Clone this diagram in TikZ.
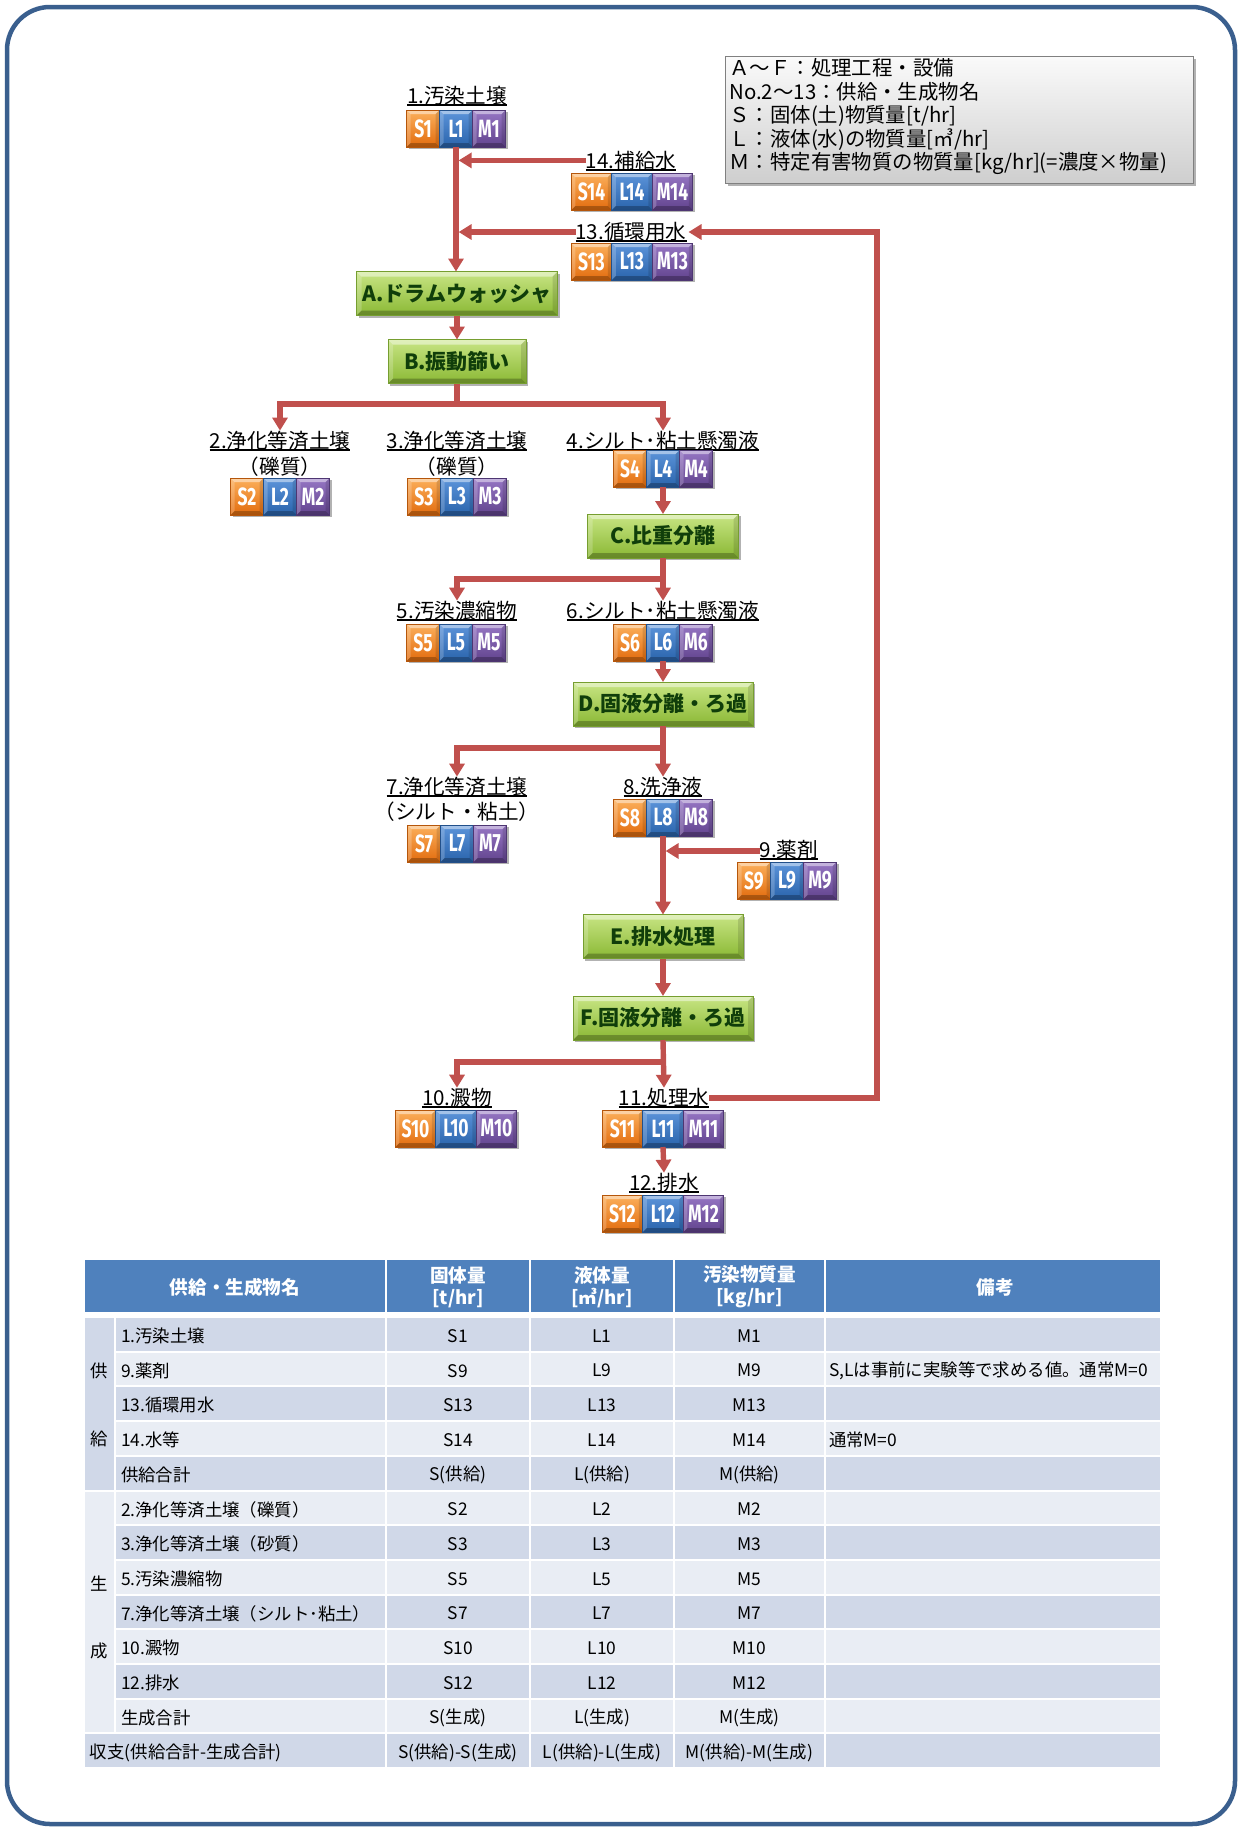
\documentclass[tikz,border=0pt]{standalone}
\usepackage{fontspec}
\setmainfont{Noto Sans CJK JP}
\newfontfamily\boxfont[FakeStretch=0.7]{Fira Sans}
\usetikzlibrary{arrows.meta,shadows}

\definecolor{frameblue}{RGB}{58,95,142}
\definecolor{flowred}{RGB}{192,80,77}
\definecolor{sTop}{RGB}{252,176,92}
\definecolor{sBot}{RGB}{226,108,14}
\definecolor{lTop}{RGB}{92,148,218}
\definecolor{lBot}{RGB}{42,100,172}
\definecolor{mTop}{RGB}{150,118,196}
\definecolor{mBot}{RGB}{98,68,142}
\definecolor{pTop}{RGB}{200,229,132}
\definecolor{pBot}{RGB}{138,184,52}
\definecolor{pText}{RGB}{16,62,10}
\definecolor{pEdge}{RGB}{118,158,48}
\definecolor{hdr}{RGB}{79,129,189}
\definecolor{rowA}{RGB}{208,216,232}
\definecolor{rowB}{RGB}{233,237,244}
\definecolor{legTop}{RGB}{250,250,250}
\definecolor{legBot}{RGB}{206,206,206}

% underlined label text
\newcommand\uln[1]{\setbox0\hbox{#1}\rlap{\rule[-1.5pt]{\wd0}{0.9pt}}\box0}

\tikzset{
  bevel/.style={path picture={
    \path (path picture bounding box.north west) coordinate (pnw)
          (path picture bounding box.north east) coordinate (pne)
          (path picture bounding box.south west) coordinate (psw)
          (path picture bounding box.south east) coordinate (pse);
    \fill[white,opacity=0.45] (pnw) -- (pne) -- ([xshift=-#1,yshift=-#1]pne) -- ([xshift=#1,yshift=-#1]pnw) -- cycle;
    \fill[white,opacity=0.2] (pnw) -- (psw) -- ([xshift=#1,yshift=#1]psw) -- ([xshift=#1,yshift=-#1]pnw) -- cycle;
    \fill[black,opacity=0.12] (pne) -- (pse) -- ([xshift=-#1,yshift=#1]pse) -- ([xshift=-#1,yshift=-#1]pne) -- cycle;
    \fill[black,opacity=0.25] (psw) -- (pse) -- ([xshift=-#1,yshift=#1]pse) -- ([xshift=#1,yshift=#1]psw) -- cycle;
  }},
  softshadow/.style={drop shadow={shadow xshift=1.2pt,shadow yshift=-1.2pt,opacity=0.3,fill=black}},
  cell/.style={inner sep=0pt, outer sep=0pt, minimum height=18.5pt, text=white,
    font=\boxfont\bfseries\fontsize{12.5}{13}\selectfont, bevel=2pt, softshadow, line width=0.3pt},
  sbox/.style={cell, top color=sTop, bottom color=sBot, draw=sBot!80!black},
  lbox/.style={cell, top color=lTop, bottom color=lBot, draw=lBot!80!black},
  mbox/.style={cell, top color=mTop, bottom color=mBot, draw=mBot!80!black},
  proc/.style={inner sep=0pt, outer sep=0pt, minimum height=22pt, top color=pTop, bottom color=pBot,
    draw=pEdge, line width=0.4pt, text=pText, font=\bfseries\fontsize{10.5}{12}\selectfont,
    bevel=2.5pt, softshadow},
  lab/.style={inner sep=0pt, outer sep=0pt, anchor=base, font=\fontsize{10.3}{12}\selectfont},
  wire/.style={draw=flowred, line width=2.7pt},
  flow/.style={wire, ->},
  tcell/.style={inner sep=0pt, outer sep=0pt, font=\fontsize{8.7}{10}\selectfont},
  thead/.style={inner sep=0pt, outer sep=0pt, text=white, align=center,
    font=\bfseries\fontsize{9.3}{11}\selectfont},
}

% three quantity cells S/L/M centred at x, top edge at y
\newcommand\trio[4]{% #1 number, #2 centre x, #3 top y, #4 cell width
  \node[sbox, minimum width=#4*0.5pt, anchor=north] (s#1) at ({#2-#4},#3) {S#1};
  \node[lbox, minimum width=#4*0.5pt, anchor=north] (l#1) at (#2,#3) {L#1};
  \node[mbox, minimum width=#4*0.5pt, anchor=north] (m#1) at ({#2+#4},#3) {M#1};
}

% one body row of the balance table
\newcommand\trow[7]{% #1 index, #2 fill, #3 left x of name cell, #4 name, #5 S, #6 L, #7 M
  \pgfmathsetmacro\rowtop{1317+34.7*#1}
  \pgfmathsetmacro\rowbot{\rowtop+34.7}
  \pgfmathsetmacro\rowmid{\rowtop+19}
  \path[fill=#2, draw=white, line width=1pt] (#3,\rowtop) rectangle (386,\rowbot)
       (386,\rowtop) rectangle (530,\rowbot) (530,\rowtop) rectangle (674,\rowbot)
       (674,\rowtop) rectangle (825,\rowbot) (825,\rowtop) rectangle (1161,\rowbot);
  \node[tcell, anchor=west] (t#1n) at ({#3+6},\rowmid) {#4};
  \node[tcell] (t#1s) at (458,\rowmid) {#5};
  \node[tcell] (t#1l) at (602,\rowmid) {#6};
  \node[tcell] (t#1m) at (749.5,\rowmid) {#7};
}

\begin{document}
\begin{tikzpicture}[x=0.5pt, y=-0.5pt, >={Triangle[length=6.5pt,width=7.5pt]}]
\useasboundingbox (0,0) rectangle (1239,1827);

% outer frame
\draw[frameblue, line width=2.25pt, rounded corners=21.5pt] (7,7) rectangle (1235,1824);

% legend
\node[draw=black!50, line width=0.6pt, top color=legTop, bottom color=legBot, softshadow,
      minimum width=234pt, minimum height=63.5pt, inner sep=0pt, anchor=north west] (legend) at (725,56) {};
\node[inner sep=0pt, anchor=north west, align=left, font=\fontsize{10.2}{11.75}\selectfont] (legendtext) at (729,58)
  {Ａ～Ｆ：処理工程・設備\\No.2～13：供給・生成物名\\Ｓ：固体(土)物質量{[t/hr]}\\Ｌ：液体(水)の物質量{[㎥/hr]}\\Ｍ：特定有害物質の物質量{[kg/hr]}(=濃度×物量)};

% material labels
\node[lab] (lab1) at (457,103) {\uln{1.汚染土壌}};
\node[lab] (lab14) at (631,168) {\uln{14.補給水}};
\node[lab] (lab13) at (631,239) {\uln{13.循環用水}};
\node[lab] (lab2) at (280,448) {\uln{2.浄化等済土壌}};
\node[lab] (sub2) at (280,474) {（礫質）};
\node[lab] (lab3) at (457,448) {\uln{3.浄化等済土壌}};
\node[lab] (sub3) at (457,474) {（礫質）};
\node[lab] (lab4) at (663,448) {\uln{4.シルト･粘土懸濁液}};
\node[lab] (lab5) at (457,618) {\uln{5.汚染濃縮物}};
\node[lab] (lab6) at (663,618) {\uln{6.シルト･粘土懸濁液}};
\node[lab] (lab7) at (457,794) {\uln{7.浄化等済土壌}};
\node[lab] (sub7) at (457,819) {（シルト・粘土）};
\node[lab] (lab8) at (663,794) {\uln{8.洗浄液}};
\node[lab] (lab9) at (789,857) {\uln{9.薬剤}};
\node[lab] (lab10) at (457,1105) {\uln{10.澱物}};
\node[lab] (lab11) at (664,1105) {\uln{11.処理水}};
\node[lab] (lab12) at (664,1190) {\uln{12.排水}};

% quantity cells
\trio{1}{456}{110}{33}
\trio{14}{632}{173}{40.5}
\trio{13}{632}{243}{40.5}
\trio{2}{280}{478}{33}
\trio{3}{457}{478}{33}
\trio{4}{663}{450}{33}
\trio{5}{456}{624}{33}
\trio{6}{663}{624}{33}
\trio{7}{457}{825}{33}
\trio{8}{663}{799}{33}
\trio{9}{787}{862}{33}
\trio{10}{456}{1110}{40.5}
\trio{11}{663}{1110}{40.5}
\trio{12}{663}{1195}{40.5}

% process steps
\node[proc, minimum width=100.5pt] (A) at (457,293.5) {A.ドラムウォッシャ};
\node[proc, minimum width=69pt] (B) at (457,361.5) {B.振動篩い};
\node[proc, minimum width=75.5pt] (C) at (663,536) {C.比重分離};
\node[proc, minimum width=90pt] (D) at (663,704) {D.固液分離・ろ過};
\node[proc, minimum width=80pt] (E) at (663,936.5) {E.排水処理};
\node[proc, minimum width=90pt] (F) at (663,1018) {F.固液分離・ろ過};

% junction points
\coordinate (jB) at (457,404);
\coordinate (jC) at (663,579);
\coordinate (jD) at (663,748);
\coordinate (jF) at (663,1062);
\coordinate (loopx) at (877,0);
\coordinate (f14) at ([yshift=3.8pt]lab14.base west);
\coordinate (f13) at ([yshift=3.5pt]lab13.base west);
\coordinate (r13) at ([yshift=3.5pt]lab13.base east);
\coordinate (r11) at ([yshift=3.5pt]lab11.base east);
\coordinate (f9) at ([yshift=3pt]lab9.base west);

% flow lines
\draw[flow] (l1.south) -- (l1.south |- A.north);
\draw[flow, shorten >=1.3pt] (f14) -- (f14 -| l1.south);
\draw[flow, shorten >=1.3pt] (f13) -- (f13 -| l1.south);
\draw[flow] (r11) -- (r11 -| loopx) -- (r13 -| loopx) -- ([xshift=1pt]r13);
\draw[flow] (A.south) -- (B.north);
\draw[wire] (B.south) -- (jB);
\draw[wire, <->] (lab2.north) |- (jB) -| (lab4.north);
\draw[flow] (l4.south) -- (C.north);
\draw[flow] (C.south) -- (lab6.north);
\draw[flow] (jC) -| (lab5.north);
\draw[flow] (l6.south) -- (D.north);
\draw[flow] (D.south) -- (lab8.north);
\draw[flow] (jD) -| (lab7.north);
\draw[flow] (l8.south) -- (E.north);
\draw[flow, shorten >=1.3pt] (f9) -- (f9 -| l8.south);
\draw[flow] (E.south) -- (F.north);
\draw[flow] (F.south) -- (lab11.north);
\draw[flow] (jF) -| (lab10.north);
\draw[flow] (l11.south) -- (lab12.north);

% balance table: header
\path[fill=hdr, draw=white, line width=1pt] (84,1259) rectangle (386,1313)
     (386,1259) rectangle (530,1313) (530,1259) rectangle (674,1313)
     (674,1259) rectangle (825,1313) (825,1259) rectangle (1161,1313);
\node[thead] (h0) at (235,1287) {供給・生成物名};
\node[thead] (h1) at (458,1287) {固体量\\{}[t/hr]};
\node[thead] (h2) at (602,1287) {液体量\\{}[㎥/hr]};
\node[thead] (h3) at (749.5,1287) {汚染物質量\\{}[kg/hr]};
\node[thead] (h4) at (995,1287) {備考};

% balance table: group cells
\path[fill=rowA, draw=white, line width=1pt] (84,1317) rectangle (115,1490.5);
\path[fill=rowB, draw=white, line width=1pt] (84,1490.5) rectangle (115,1733.4);
\node[tcell] (g1) at (99.5,1371) {供};
\node[tcell] (g2) at (99.5,1439) {給};
\node[tcell] (g3) at (99.5,1584) {生};
\node[tcell] (g4) at (99.5,1651) {成};

% balance table: rows
\trow{0}{rowA}{115}{1.汚染土壌}{S1}{L1}{M1}
\trow{1}{rowB}{115}{9.薬剤}{S9}{L9}{M9}
\trow{2}{rowA}{115}{13.循環用水}{S13}{L13}{M13}
\trow{3}{rowB}{115}{14.水等}{S14}{L14}{M14}
\trow{4}{rowA}{115}{供給合計}{S(供給)}{L(供給)}{M(供給)}
\trow{5}{rowB}{115}{2.浄化等済土壌（礫質）}{S2}{L2}{M2}
\trow{6}{rowA}{115}{3.浄化等済土壌（砂質）}{S3}{L3}{M3}
\trow{7}{rowB}{115}{5.汚染濃縮物}{S5}{L5}{M5}
\trow{8}{rowA}{115}{7.浄化等済土壌（シルト･粘土）}{S7}{L7}{M7}
\trow{9}{rowB}{115}{10.澱物}{S10}{L10}{M10}
\trow{10}{rowA}{115}{12.排水}{S12}{L12}{M12}
\trow{11}{rowB}{115}{生成合計}{S(生成)}{L(生成)}{M(生成)}
\trow{12}{rowA}{84}{収支(供給合計-生成合計)}{S(供給)-S(生成)}{L(供給)-L(生成)}{M(供給)-M(生成)}
\node[tcell, anchor=west] (t1r) at (829,1370.7) {S,Lは事前に実験等で求める値。通常M=0};
\node[tcell, anchor=west] (t3r) at (829,1440.1) {通常M=0};
\end{tikzpicture}
\end{document}
